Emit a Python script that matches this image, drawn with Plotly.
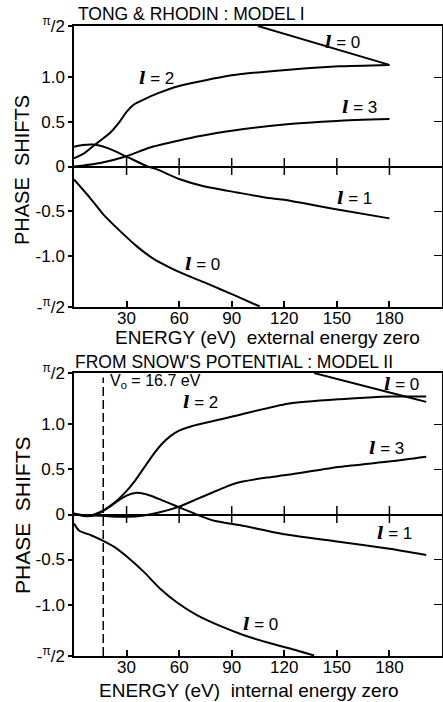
import math
import plotly.graph_objects as go

PI2 = math.pi / 2

# ---------------- Model I (Tong & Rhodin) ----------------
m1_l0a_E = [0, 9.1, 16.7, 26.2, 35.7, 45.2, 54.7, 64.2, 73.7, 83.2, 92.7, 106]
m1_l0a_y = [-0.145, -0.35, -0.535, -0.72, -0.89, -1.03, -1.13, -1.215, -1.29, -1.37, -1.45, -1.565]
m1_l0b_E = [105, 180]
m1_l0b_y = [1.57, 1.136]
m1_l1_E = [0, 5, 11, 20, 30, 42, 47, 60, 74, 93, 110, 119, 147, 180]
m1_l1_y = [0.22, 0.24, 0.245, 0.2, 0.11, 0.0, -0.03, -0.14, -0.22, -0.29, -0.35, -0.37, -0.47, -0.58]
m1_l2_E = [0, 6, 13, 20.5, 26, 30, 34, 40, 48, 60, 90, 121, 151, 180]
m1_l2_y = [0.09, 0.15, 0.26, 0.375, 0.50, 0.61, 0.69, 0.75, 0.82, 0.90, 1.02, 1.08, 1.12, 1.136]
m1_l3_E = [0, 15, 30, 43, 60, 72, 90, 120, 150, 180]
m1_l3_y = [0.0, 0.04, 0.115, 0.21, 0.29, 0.34, 0.40, 0.47, 0.51, 0.53]

# ---------------- Model II (Snow's potential) ----------------
m2_l0a_E = [0, 3, 9.7, 16.4, 23, 30.6, 40, 49.5, 59, 70.4, 83.7, 97, 112, 127.3, 137]
m2_l0a_y = [-0.10, -0.18, -0.23, -0.29, -0.36, -0.475, -0.64, -0.83, -0.98, -1.12, -1.24, -1.34, -1.43, -1.51, -1.565]
m2_l0b_E = [137, 189, 201]
m2_l0b_y = [1.57, 1.31, 1.25]
m2_l1_E = [0, 5, 10, 15, 20, 25, 30, 35, 40, 45, 50, 55, 60, 65, 70, 80, 95, 120, 150, 180, 201]
m2_l1_y = [0.01, -0.01, -0.015, 0.02, 0.08, 0.15, 0.21, 0.24, 0.23, 0.2, 0.16, 0.12, 0.08, 0.04, 0.0,
           -0.07, -0.12, -0.22, -0.30, -0.38, -0.45]
m2_l2_E = [0, 8, 14, 17, 23, 29, 35, 40, 45, 50, 55, 60, 67, 80, 91, 122, 152, 181, 201]
m2_l2_y = [0.01, -0.02, 0.02, 0.05, 0.13, 0.24, 0.38, 0.52, 0.66, 0.78, 0.87, 0.93, 0.98, 1.04, 1.09, 1.23, 1.28, 1.31, 1.31]
m2_l3_E = [0, 10, 20, 30, 40, 50, 60, 70, 78, 87, 95, 110, 122, 152, 181, 201]
m2_l3_y = [0.0, -0.01, -0.02, -0.026, -0.01, 0.03, 0.087, 0.17, 0.236, 0.31, 0.36, 0.41, 0.44, 0.53, 0.59, 0.64]
V0 = 16.7

# ticks
E_TICKS = [30, 60, 90, 120, 150, 180]
E_TICKTEXT = ["30", "60", "90", "120", "150", "180"]
Y_TICKS = [-PI2, -1.0, -0.5, 0, 0.5, 1.0, PI2]
Y_TICKTEXT = ["-<sup>π</sup>/2", "-1.0", "-0.5", "0", "0.5", "1.0", "<sup>π</sup>/2"]
Y_RTICKS = [-1.0, -0.5, 0.5, 1.0]
ZERO = [0, 0, 0, 0, 0, 0]

FONT = "Liberation Sans"
LW = 2

fig = go.Figure()

def curve(E, y, xa, ya):
    fig.add_trace(go.Scatter(x=E, y=y, mode="lines",
                             line=dict(color="black", width=LW, shape="spline", smoothing=0.6),
                             xaxis=xa, yaxis=ya, showlegend=False, hoverinfo="skip"))

for E, y in [(m1_l0a_E, m1_l0a_y), (m1_l0b_E, m1_l0b_y), (m1_l1_E, m1_l1_y), (m1_l2_E, m1_l2_y), (m1_l3_E, m1_l3_y)]:
    curve(E, y, "x", "y")
for E, y in [(m2_l0a_E, m2_l0a_y), (m2_l0b_E, m2_l0b_y), (m2_l1_E, m2_l1_y), (m2_l2_E, m2_l2_y), (m2_l3_E, m2_l3_y)]:
    curve(E, y, "x2", "y2")

# V0 dashed line
fig.add_trace(go.Scatter(x=[V0, V0], y=[-PI2, PI2 - 0.05], mode="lines",
                         line=dict(color="black", width=1.5, dash="9px,4px"),
                         xaxis="x2", yaxis="y2", showlegend=False, hoverinfo="skip"))

# crossing ticks on the zero lines
for xa, ya in [("x", "y"), ("x2", "y2")]:
    fig.add_trace(go.Scatter(x=E_TICKS, y=ZERO, mode="markers",
                             marker=dict(symbol="line-ns", size=12, line=dict(color="black", width=1.5)),
                             xaxis=xa, yaxis=ya, showlegend=False, hoverinfo="skip"))

# empty traces for right-hand tick axes
fig.add_trace(go.Scatter(x=[], y=[], xaxis="x", yaxis="y3", showlegend=False))
fig.add_trace(go.Scatter(x=[], y=[], xaxis="x2", yaxis="y4", showlegend=False))

TOP = [1 - 307 / 702, 1 - 26 / 702]
BOT = [1 - 656 / 702, 1 - 373 / 702]

xcommon = dict(range=[0, 210], tickvals=E_TICKS, ticktext=E_TICKTEXT, ticks="inside", ticklen=6,
               tickwidth=1.5, tickcolor="black", showline=True, linewidth=1.5, linecolor="black",
               mirror=True, showgrid=False, zeroline=False, automargin=False, ticklabelstandoff=-5,
               tickfont=dict(family=FONT, size=17, color="black"))
ycommon = dict(range=[-PI2, PI2], tickvals=Y_TICKS, ticktext=Y_TICKTEXT, ticks="outside", ticklen=4,
               tickwidth=1.5, tickcolor="black", showline=True, linewidth=1.5, linecolor="black",
               showgrid=False, zeroline=True, zerolinecolor="black", zerolinewidth=1.5, automargin=False,
               tickfont=dict(family=FONT, size=17, color="black"))
yright = dict(range=[-PI2, PI2], tickvals=Y_RTICKS, ticks="inside", ticklen=8, tickwidth=1.2,
              tickcolor="black", showticklabels=False, showline=True, linewidth=1, linecolor="black",
              showgrid=False, zeroline=False, side="right", automargin=False)

fig.update_layout(
    width=443, height=702,
    margin=dict(l=74, r=1, t=0, b=0, autoexpand=False),
    paper_bgcolor="white", plot_bgcolor="white",
    font=dict(family=FONT, color="black"),
    xaxis=dict(domain=[0, 1], anchor="y", **xcommon),
    yaxis=dict(domain=TOP, anchor="x", **ycommon),
    xaxis2=dict(domain=[0, 1], anchor="y2", **xcommon),
    yaxis2=dict(domain=BOT, anchor="x2", **ycommon),
    yaxis3=dict(overlaying="y", anchor="x", **yright),
    yaxis4=dict(overlaying="y2", anchor="x2", **yright),
)

ann = []
def lab(text, E, y, xa, ya, size=17, xanchor="center"):
    ann.append(dict(text=text, x=E, y=y, xref=xa, yref=ya, showarrow=False, xanchor=xanchor,
                    yanchor="middle", font=dict(family=FONT, size=size, color="black")))

L = "<span style='font-family:DejaVu Serif'><b><i>l</i></b></span>"
# Model I labels
lab(L + " = 0", 153, 1.39, "x", "y")
lab(L + " = 2", 47, 0.99, "x", "y")
lab(L + " = 3", 163, 0.66, "x", "y")
lab(L + " = 1", 160, -0.35, "x", "y")
lab(L + " = 0", 73.5, -1.09, "x", "y")
# Model II labels
lab(L + " = 0", 187, 1.45, "x2", "y2")
lab(L + " = 2", 72, 1.25, "x2", "y2")
lab(L + " = 3", 178.5, 0.74, "x2", "y2")
lab(L + " = 1", 183, -0.21, "x2", "y2")
lab(L + " = 0", 106.4, -1.21, "x2", "y2")
lab("V<sub>o</sub> = 16.7 eV", 19.2, 1.475, "x2", "y2", size=16, xanchor="left")

def pap(text, x, y, size, xanchor="center", angle=0):
    ann.append(dict(text=text, x=x, y=y, xref="paper", yref="paper", showarrow=False, xanchor=xanchor,
                    yanchor="middle", textangle=angle, font=dict(family=FONT, size=size, color="black")))

pap("TONG &amp; RHODIN : MODEL I", 0.005, 1 - 14 / 702, 17.5, xanchor="left")
pap("FROM SNOW'S POTENTIAL : MODEL II", -0.003, 1 - 362 / 702, 17.5, xanchor="left")
pap("ENERGY (eV)  external energy zero", (267.5 - 74) / 368, 1 - 338 / 702, 19)
pap("ENERGY (eV)  internal energy zero", (248.5 - 74) / 368, 1 - 690 / 702, 19)
pap("PHASE  SHIFTS", (22 - 74) / 368, 1 - 170 / 702, 20, angle=-90)
pap("PHASE  SHIFTS", (22 - 74) / 368, 1 - 515 / 702, 21, angle=-90)

fig.update_layout(annotations=ann)
fig.write_html("out.html", config={"displayModeBar": False},
               post_script="document.body.style.margin='0px';document.body.style.overflow='hidden';")
